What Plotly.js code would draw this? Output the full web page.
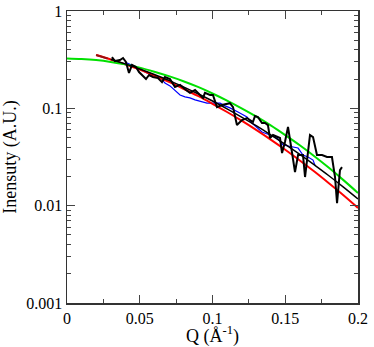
<!DOCTYPE html>
<html><head><meta charset="utf-8">
<script src="https://cdn.plot.ly/plotly-3.0.1.min.js"></script>
<style>html,body{margin:0;padding:0;background:#fff}#chart{width:374px;height:347px}</style>
</head><body><div id="chart"></div>
<script>
// Black noisy measured curve
const blackQ = [0.0309,0.0330,0.0364,0.0385,0.0405,0.0426,0.0447,0.0474,0.0495,0.0515,0.0543,0.0564,0.0591,0.0625,0.0653,0.0673,0.0708,0.0742,0.0777,0.0818,0.0845,0.0880,0.0900,0.0935,0.0948,0.0983,0.1003,0.1031,0.1065,0.1120,0.1141,0.1168,0.1203,0.1237,0.1278,0.1292,0.1312,0.1340,0.1361,0.1381,0.1395,0.1416,0.1464,0.1478,0.1498,0.1519,0.1546,0.1567,0.1588,0.1622,0.1636,0.1650,0.1670,0.1691,0.1718,0.1753,0.1787,0.1821,0.1842,0.1856,0.1876,0.1890];
const blackI = [0.336,0.306,0.314,0.329,0.299,0.231,0.279,0.266,0.236,0.220,0.200,0.220,0.210,0.205,0.186,0.210,0.200,0.166,0.174,0.154,0.144,0.154,0.144,0.128,0.144,0.137,0.137,0.103,0.108,0.113,0.103,0.0673,0.0758,0.0795,0.0723,0.0834,0.0814,0.0706,0.0706,0.0673,0.0495,0.0532,0.0495,0.0347,0.0451,0.0643,0.0356,0.0221,0.0331,0.0331,0.0197,0.0294,0.0532,0.0507,0.0331,0.0331,0.0316,0.0316,0.0197,0.0106,0.0232,0.0249];
// Blue measured curve
const blueQ = [0.0398,0.0447,0.0488,0.0550,0.0605,0.0639,0.0673,0.0708,0.0742,0.0777,0.0811,0.0845,0.0880,0.0914,0.0962,0.0997,0.1052,0.1086,0.1120,0.1175,0.1210,0.1237,0.1271,0.1306,0.1340,0.1395,0.1443,0.1485,0.1546,0.1588,0.1622,0.1656,0.1691,0.1704];
const blueI = [0.299,0.279,0.260,0.231,0.215,0.210,0.182,0.170,0.154,0.137,0.131,0.128,0.122,0.119,0.113,0.113,0.113,0.106,0.101,0.0916,0.0853,0.0814,0.0706,0.0628,0.0571,0.0532,0.0495,0.0420,0.0400,0.0391,0.0331,0.0316,0.0294,0.0261];
// Red smooth curve
const redQ = [0.02,0.03,0.04,0.05,0.06,0.07,0.08,0.09,0.10,0.11,0.12,0.13,0.14,0.15,0.16,0.17,0.18,0.19,0.20];
const redI = [0.353,0.318,0.283,0.250,0.217,0.187,0.159,0.134,0.1114,0.0917,0.0746,0.0600,0.0477,0.0375,0.0291,0.0224,0.0170,0.0128,0.00948];
// Dark red start segment
const darkRedQ = [0.02,0.025,0.028];
const darkRedI = [0.353,0.335,0.324];
// Black smooth curve
const blackFitQ = [0.03,0.04,0.05,0.06,0.07,0.08,0.09,0.10,0.11,0.12,0.13,0.14,0.15,0.16,0.17,0.18,0.19,0.20];
const blackFitI = [0.320,0.286,0.254,0.223,0.194,0.166,0.141,0.119,0.0989,0.0813,0.0663,0.0534,0.0426,0.0336,0.0262,0.0203,0.0155,0.0117];
// Green smooth curve
const greenQ = [0,0.01,0.02,0.03,0.04,0.05,0.06,0.07,0.08,0.09,0.10,0.11,0.12,0.13,0.14,0.15,0.16,0.17,0.18,0.19,0.20];
const greenI = [0.325,0.321,0.313,0.300,0.283,0.262,0.238,0.214,0.190,0.166,0.142,0.120,0.100,0.0825,0.0667,0.0530,0.0417,0.0322,0.0245,0.0183,0.0135];

const xTicks = [0,0.05,0.1,0.15,0.2];
const xTickText = ['0','0.05','0.1','0.15','0.2'];
const yTicks = [0.001,0.01,0.1,1];
const yTickText = ['0.001','0.01','0.1','1'];

const traces = [
  {x: blueQ, y: blueI, mode:'lines', line:{color:'#0000ff', width:1.2}},
  {x: redQ, y: redI, mode:'lines', line:{color:'#ff0000', width:2, shape:'spline'}},
  {x: darkRedQ, y: darkRedI, mode:'lines', line:{color:'#991010', width:2}},
  {x: greenQ, y: greenI, mode:'lines', line:{color:'#00e000', width:2, shape:'spline'}},
  {x: blackFitQ, y: blackFitI, mode:'lines', line:{color:'#000000', width:1.5, shape:'spline'}},
  {x: blackQ, y: blackI, mode:'lines', line:{color:'#000000', width:2}}
];
const fam = 'Liberation Serif';
const layout = {
  width:374, height:347,
  margin:{l:67, r:16, t:11, b:44},
  showlegend:false,
  paper_bgcolor:'#fff', plot_bgcolor:'#fff',
  font:{family:fam, size:16, color:'#000'},
  xaxis:{
    range:[0,0.2], tickmode:'array', tickvals:xTicks, ticktext:xTickText,
    ticks:'inside', ticklen:8, tickwidth:1, tickcolor:'#444',
    minor:{dtick:0.025, ticks:'inside', ticklen:4, tickcolor:'#444', showgrid:false},
    showline:true, linecolor:'#333', linewidth:1.5, mirror:'ticks',
    showgrid:false, zeroline:false,
    tickfont:{family:fam, size:16, color:'#000'},
    title:{text:'Q (Å<sup>-1</sup>)', font:{family:fam, size:18, color:'#000'}, standoff:3}
  },
  yaxis:{
    type:'log', range:[-3,0], tickmode:'array', tickvals:yTicks, ticktext:yTickText,
    ticks:'inside', ticklen:8, tickwidth:1, tickcolor:'#444',
    minor:{dtick:'D1', ticks:'inside', ticklen:4, tickcolor:'#444', showgrid:false},
    showline:true, linecolor:'#333', linewidth:1.5, mirror:'ticks',
    showgrid:false, zeroline:false,
    tickfont:{family:fam, size:16, color:'#000'},
    title:{text:'Inensuty (A.U.)', font:{family:fam, size:18, color:'#000'}, standoff:6}
  }
};
Plotly.newPlot('chart', traces, layout, {staticPlot:true, displayModeBar:false});
</script></body></html>
